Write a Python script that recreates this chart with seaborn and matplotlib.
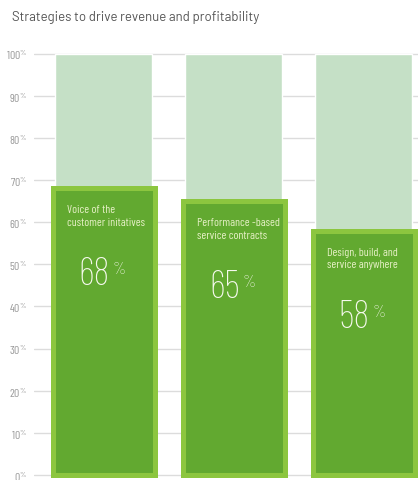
import seaborn as sns
import matplotlib.pyplot as plt

categories = ["Voice of the\ncustomer initatives",
              "Performance -based\nservice contracts",
              "Design, build, and\nservice anywhere"]
values = [68, 65, 58]
totals = [100, 100, 100]
ticks = [0, 10, 20, 30, 40, 50, 60, 70, 80, 90, 100]
tick_labels = [f"{t}" + r"$^{\%}$" for t in ticks]
title = "Strategies to drive revenue and profitability"

COND = ["Barlow Condensed", "DejaVu Sans"]


def main():
    sns.set_style("white")
    plt.rcParams['font.family'] = COND
    plt.rcParams['mathtext.fontset'] = 'custom'
    plt.rcParams['mathtext.rm'] = 'Barlow Condensed'
    plt.rcParams['mathtext.it'] = 'Barlow Condensed'
    plt.rcParams['mathtext.default'] = 'rm'

    fig = plt.figure(figsize=(4.18, 4.81), dpi=100)
    ax = fig.add_axes([34 / 418, 0, 1 - 34 / 418, 0.891])

    # faded 100% bars behind
    sns.barplot(x=categories, y=totals, color="#c5e0c6", width=0.746,
                saturation=1, ax=ax, zorder=2)
    # actual values, dark fill with lighter green rim
    sns.barplot(x=categories, y=values, color="#62a930", width=0.785,
                saturation=1, edgecolor="#8cc63f", linewidth=3.6,
                ax=ax, zorder=3)

    ax.set_xlim(-0.535, 2.419)
    ax.set_ylim(-1.2, 100.5)
    ax.set_yticks(ticks)
    ax.set_yticklabels(tick_labels)
    ax.tick_params(axis='y', length=0, pad=5, labelsize=8.5, labelcolor="#9a9a9a")
    ax.set_xticks([])
    ax.set_xlabel("")
    ax.set_ylabel("")
    ax.yaxis.grid(True, color="#dcdcdc", linewidth=1)
    ax.set_axisbelow(True)
    sns.despine(ax=ax, left=True, bottom=True)

    for i, (cat, v) in enumerate(zip(categories, values)):
        ax.annotate(cat, xy=(i - 0.41, v), xytext=(17, -16),
                    textcoords='offset pixels', ha='left', va='top',
                    fontsize=8.5, color="#e6f0c6", linespacing=1.35, zorder=5)
        ax.annotate(f"{v}", xy=(i, v), xytext=(6, -86),
                    textcoords='offset pixels', ha='right', va='center',
                    fontsize=28, fontweight='light', color="#f6f9ee", zorder=5)
        ax.annotate("%", xy=(i, v), xytext=(9, -81),
                    textcoords='offset pixels', ha='left', va='center',
                    fontsize=12, fontweight='light', color="#f6f9ee", zorder=5)

    fig.text(12 / 418, 1 - 17 / 481, title, ha='left', va='center',
             fontsize=9.5, color="#555555", family=["Barlow", "DejaVu Sans"])

    fig.savefig("out.png", dpi=100)


if __name__ == "__main__":
    main()
